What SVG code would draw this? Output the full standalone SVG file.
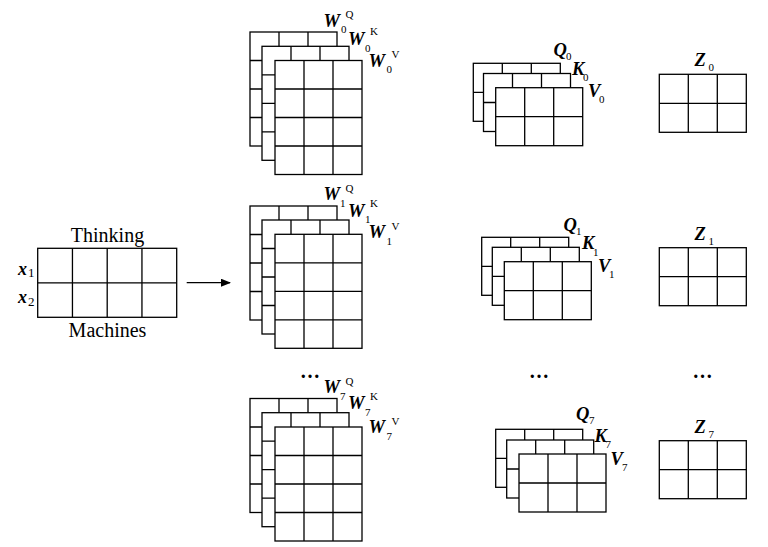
<svg xmlns="http://www.w3.org/2000/svg" width="768" height="547" viewBox="0 0 768 547" font-family="'Liberation Serif', 'DejaVu Serif', serif">
<style>
.g{fill:#fff;stroke:#000;stroke-width:1.3}
.ln{stroke:#000;stroke-width:1.3;fill:none}
text{font-family:'Liberation Serif','DejaVu Serif',serif;fill:#000}
.bi{font-weight:bold;font-style:italic;font-size:18.5px}
.s{font-weight:normal;font-style:normal;font-size:11px}
.plain{font-size:20px}
.dots{font-size:20px;font-weight:bold}
</style>
<defs>
<g id="m34">
<rect class="g" x="0" y="0" width="87" height="114"/>
<path class="ln" d="M29 0V114M58 0V114M0 28.5H87M0 57H87M0 85.5H87"/>
</g>
<g id="m32">
<rect class="g" x="0" y="0" width="87" height="58"/>
<path class="ln" d="M29 0V58M58 0V58M0 29H87"/>
</g>
<marker id="ah" markerWidth="10" markerHeight="8" refX="9" refY="4" orient="auto" markerUnits="userSpaceOnUse">
<path d="M0 0L10 4L0 8Z" fill="#000"/>
</marker>
</defs>
<rect width="768" height="547" fill="#fff"/>

<g id="input">
<rect class="g" x="37.7" y="248.3" width="139" height="69"/>
<path class="ln" d="M72.45 248.3V317.3M107.2 248.3V317.3M141.95 248.3V317.3M37.7 282.8H176.7"/>
<text class="plain" x="107.5" y="242" text-anchor="middle">Thinking</text>
<text class="plain" x="107.5" y="337" text-anchor="middle">Machines</text>
<text x="18" y="275"><tspan class="bi" style="font-size:18px">x</tspan><tspan class="s" style="font-size:13px" x="28" y="277">1</tspan></text>
<text x="18" y="303.3"><tspan class="bi" style="font-size:18px">x</tspan><tspan class="s" style="font-size:13px" x="28" y="306">2</tspan></text>
</g>

<g id="connectors">
<line class="ln" x1="186.7" y1="282.7" x2="230" y2="282.7" marker-end="url(#ah)"/>
</g>

<g id="W0">
<use href="#m34" x="250" y="32"/>
<use href="#m34" x="262" y="46.3"/>
<use href="#m34" x="275" y="60.5"/>
<text class="bi" x="323.5" y="26.5">W<tspan class="s" x="341" y="33">0</tspan><tspan class="s" x="345.5" y="18">Q</tspan></text>
<text class="bi" x="348" y="45">W<tspan class="s" x="365" y="51.5">0</tspan><tspan class="s" x="370" y="35">K</tspan></text>
<text class="bi" x="368.5" y="66.7">W<tspan class="s" x="386.5" y="72.7">0</tspan><tspan class="s" x="391.5" y="58.3">V</tspan></text>
</g>

<g id="W1">
<use href="#m34" x="250" y="206"/>
<use href="#m34" x="262" y="220"/>
<use href="#m34" x="275" y="234.3"/>
<text class="bi" x="323.5" y="200">W<tspan class="s" x="340" y="206.5">1</tspan><tspan class="s" x="345.5" y="191.5">Q</tspan></text>
<text class="bi" x="348" y="216.5">W<tspan class="s" x="365" y="223">1</tspan><tspan class="s" x="370" y="207">K</tspan></text>
<text class="bi" x="368.5" y="238">W<tspan class="s" x="386.5" y="244.5">1</tspan><tspan class="s" x="391.5" y="230">V</tspan></text>
</g>

<g id="W7">
<use href="#m34" x="250" y="398.5"/>
<use href="#m34" x="262" y="412.7"/>
<use href="#m34" x="275" y="427"/>
<text class="dots" x="310" y="378" text-anchor="middle">…</text>
<text class="bi" x="323.5" y="393.3">W<tspan class="s" x="340" y="399.8">7</tspan><tspan class="s" x="345.5" y="384.5">Q</tspan></text>
<text class="bi" x="348" y="409">W<tspan class="s" x="365" y="415.5">7</tspan><tspan class="s" x="370" y="400">K</tspan></text>
<text class="bi" x="368.5" y="433.3">W<tspan class="s" x="386.5" y="439.8">7</tspan><tspan class="s" x="391.5" y="425">V</tspan></text>
</g>

<g id="QKV0">
<use href="#m32" x="473.3" y="63.3"/>
<use href="#m32" x="483.5" y="73.5"/>
<use href="#m32" x="495.7" y="87.7"/>
<text class="bi" x="553.5" y="56">Q<tspan class="s" x="566" y="59.5">0</tspan></text>
<text class="bi" x="572" y="75">K<tspan class="s" x="583" y="81">0</tspan></text>
<text class="bi" x="588" y="96.7">V<tspan class="s" x="599" y="102.5">0</tspan></text>
</g>

<g id="QKV1">
<use href="#m32" x="481.7" y="237.3"/>
<use href="#m32" x="492.3" y="247.3"/>
<use href="#m32" x="504.3" y="261.7"/>
<text class="bi" x="563.5" y="230.7">Q<tspan class="s" x="576" y="234.5">1</tspan></text>
<text class="bi" x="582" y="249.3">K<tspan class="s" x="593" y="255.5">1</tspan></text>
<text class="bi" x="598" y="271.7">V<tspan class="s" x="609" y="277.5">1</tspan></text>
</g>

<g id="QKV7">
<text class="dots" x="539" y="378" text-anchor="middle">…</text>
<use href="#m32" x="495.7" y="429.3"/>
<use href="#m32" x="506.7" y="440"/>
<use href="#m32" x="519" y="454"/>
<text class="bi" x="576" y="420">Q<tspan class="s" x="589" y="424">7</tspan></text>
<text class="bi" x="594.5" y="441.7">K<tspan class="s" x="605.5" y="447.5">7</tspan></text>
<text class="bi" x="610.5" y="465">V<tspan class="s" x="622" y="470.5">7</tspan></text>
</g>

<g id="Z0">
<use href="#m32" x="659.3" y="74.3"/>
<text class="bi" x="694.5" y="65.7">Z<tspan class="s" x="708.5" y="70.5">0</tspan></text>
</g>
<g id="Z1">
<use href="#m32" x="659.3" y="247.7"/>
<text class="bi" x="694.5" y="240">Z<tspan class="s" x="708.5" y="245">1</tspan></text>
</g>
<g id="Z7">
<text class="dots" x="702.5" y="378" text-anchor="middle">…</text>
<use href="#m32" x="659.3" y="440.7"/>
<text class="bi" x="694.5" y="432.7">Z<tspan class="s" x="708.5" y="437.5">7</tspan></text>
</g>
</svg>
